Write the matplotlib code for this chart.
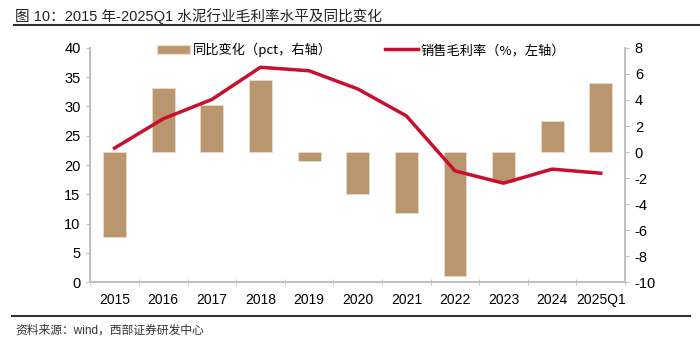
import matplotlib
matplotlib.use("Agg")
import matplotlib.pyplot as plt
import numpy as np
from matplotlib.patches import Patch
from matplotlib.lines import Line2D

plt.rcParams['font.family'] = ['Liberation Sans', 'Noto Sans CJK SC']
plt.rcParams['axes.unicode_minus'] = False

years = ['2015', '2016', '2017', '2018', '2019', '2020', '2021', '2022', '2023', '2024', '2025Q1']
gross_margin = [22.9, 27.9, 31.2, 36.7, 36.1, 33.0, 28.4, 19.0, 16.9, 19.3, 18.6]
yoy_change = [-6.5, 4.9, 3.6, 5.5, -0.7, -3.2, -4.7, -9.5, -2.3, 2.4, 5.3]

bar_color = '#B9966E'
line_color = '#C8102E'
spine_color = '#BFBFBF'

fig = plt.figure(figsize=(7, 3.5), dpi=100)
ax = fig.add_axes([0.129, 0.194, 0.764, 0.669])
ax2 = ax.twinx()

x = np.arange(len(years))
ax2.bar(x, yoy_change, width=0.47, color=bar_color, edgecolor='#EADCCB', linewidth=0.6)
ax.plot(x, gross_margin, color=line_color, linewidth=2.5)

# line above the bars
ax.set_zorder(ax2.get_zorder() + 1)
ax.patch.set_visible(False)

ax.set_xlim(-0.5, len(years) - 0.5)
ax.set_ylim(0, 40)
ax.set_yticks(np.arange(0, 41, 5))
ax2.set_ylim(-10, 8)
ax2.set_yticks(np.arange(-10, 9, 2))

ax.set_xticks(x)
ax.set_xticklabels(years)
ax.set_xticks(np.arange(-0.5, len(years), 1), minor=True)
ax.tick_params(axis='x', which='major', length=0, pad=8, labelsize=10)
ax.tick_params(axis='x', which='minor', length=4, color=spine_color, direction='inout')
ax.tick_params(axis='y', length=3, color=spine_color, labelsize=10.5, pad=4)
ax2.tick_params(axis='y', length=3, color=spine_color, labelsize=10.5, pad=4)

for a in (ax, ax2):
    a.spines['top'].set_visible(False)
    for s in ('left', 'right', 'bottom'):
        a.spines[s].set_color(spine_color)
        a.spines[s].set_linewidth(1.2)

handles = [Patch(facecolor=bar_color, edgecolor='#EADCCB'),
           Line2D([0], [0], color=line_color, linewidth=2.5)]
labels = ['同比变化（pct，右轴）', '销售毛利率（%，左轴）']
ax.legend(handles, labels, loc='upper left', bbox_to_anchor=(0.115, 1.045), ncol=2,
          frameon=False, handlelength=2.5, handletextpad=0.2, columnspacing=4.0,
          borderaxespad=0, prop={'family': ['Noto Sans CJK SC'], 'size': 9.5})

fig.text(0.022, 0.955, '图 10：2015 年-2025Q1 水泥行业毛利率水平及同比变化',
         fontsize=10.5, va='center', ha='left', color='#222222')
fig.add_artist(Line2D([0.02, 1.0], [0.93, 0.93], color='#333333', linewidth=1.5))
fig.add_artist(Line2D([0.017, 0.985], [0.097, 0.097], color='#333333', linewidth=1.5))
fig.text(0.022, 0.055, '资料来源：wind，西部证券研发中心', fontsize=8.5, va='center', ha='left',
         color='#333333')

fig.savefig('out.png', dpi=100)
